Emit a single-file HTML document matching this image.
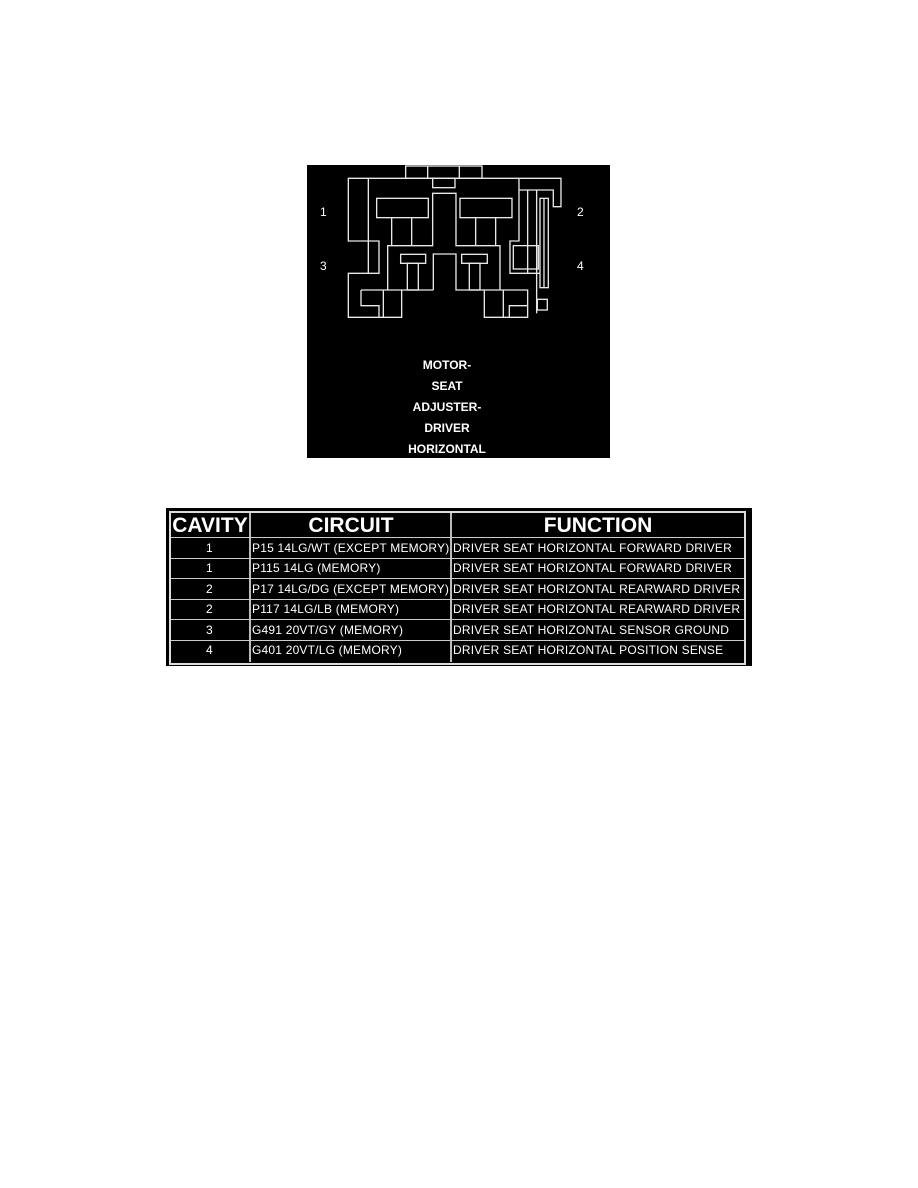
<!DOCTYPE html>
<html><head><meta charset="utf-8"><style>
body{margin:0;background:#fff;width:918px;height:1188px;position:relative;overflow:hidden;font-family:"Liberation Sans",Arial,sans-serif}
.box{position:absolute;left:307px;top:165px;width:303px;height:293px;background:#000}
.lbl{position:absolute;color:#fff;font-size:12px}
.cap{position:absolute;left:347px;width:200px;text-align:center;color:#fff;font-weight:bold;font-size:12px;line-height:14px}
.tbl{position:absolute;left:166px;top:508px;width:586px;height:158px;background:#000}
.inner{position:absolute;left:169px;top:511px;width:573px;height:150px;border:2px solid #ddd}
.c{position:absolute;color:#fff;font-size:12px;letter-spacing:0.2px;line-height:14px;white-space:nowrap}
.h{position:absolute;color:#fff;font-weight:bold;font-size:21px;line-height:24px;text-align:center}
.hl{position:absolute;left:171px;width:573px;height:1px;background:#ccc}
.vl{position:absolute;top:513px;width:2px;height:149px;background:#bbb}
</style></head><body>
<div class="box"></div>
<svg style="position:absolute;left:0;top:0" width="918" height="1188">
<g transform="translate(300,160) scale(0.3333)" fill="none" stroke="#e8e8e8" stroke-width="4">
<rect x="317" y="18" width="229" height="37"/>
<line x1="383" y1="18" x2="383" y2="55"/><line x1="478" y1="18" x2="478" y2="55"/>
<rect x="398" y="55" width="67" height="28"/>
<polyline points="657,55 145,55 145,243 237,243 237,340 145,340 145,472 305,472 305,390"/>
<polyline points="183,390 183,437 237,437 237,472"/>
<line x1="250" y1="390" x2="250" y2="472"/>
<line x1="183" y1="390" x2="400" y2="390"/>
<line x1="205" y1="55" x2="205" y2="340"/>
<rect x="230" y="115" width="155" height="58"/>
<line x1="275" y1="173" x2="275" y2="257"/><line x1="335" y1="173" x2="335" y2="257"/>
<polyline points="263,390 263,257 398,257 398,100 468,100 468,257 600,257 600,390"/>
<polyline points="400,390 400,282 468,282 468,390 683,390 683,472 553,472 553,390"/>
<rect x="480" y="115" width="156" height="58"/>
<line x1="527" y1="173" x2="527" y2="257"/><line x1="587" y1="173" x2="587" y2="257"/>
<rect x="302" y="283" width="75" height="27"/>
<rect x="322" y="310" width="33" height="80"/>
<rect x="485" y="283" width="77" height="27"/>
<rect x="508" y="310" width="32" height="80"/>
<polyline points="628,472 628,437 683,437"/>
<line x1="610" y1="390" x2="610" y2="472"/>
<polyline points="657,55 657,243 630,243 630,340 720,340"/>
<rect x="640" y="257" width="75" height="70"/>
<line x1="683" y1="90" x2="683" y2="340"/>
<polyline points="710,90 710,460"/>
<polyline points="658,90 760,90 760,140 783,140 783,55 657,55"/>
<rect x="720" y="115" width="25" height="268"/>
<line x1="732" y1="115" x2="732" y2="383"/>
<rect x="712" y="418" width="30" height="32"/>
</g></svg>
<div class="lbl" style="left:320px;top:205px">1</div>
<div class="lbl" style="left:577px;top:205px">2</div>
<div class="lbl" style="left:320px;top:259px">3</div>
<div class="lbl" style="left:577px;top:259px">4</div>
<div class="cap" style="top:358px">MOTOR-</div>
<div class="cap" style="top:379px">SEAT</div>
<div class="cap" style="top:400px">ADJUSTER-</div>
<div class="cap" style="top:421px">DRIVER</div>
<div class="cap" style="top:442px">HORIZONTAL</div>

<div class="tbl"></div>
<div class="inner"></div>
<div class="vl" style="left:249px"></div>
<div class="vl" style="left:450px"></div>
<div class="hl" style="top:537px"></div>
<div class="hl" style="top:558px"></div>
<div class="hl" style="top:578px"></div>
<div class="hl" style="top:599px"></div>
<div class="hl" style="top:619px"></div>
<div class="hl" style="top:640px"></div>
<div class="h" style="left:170px;width:80px;top:514px">CAVITY</div>
<div class="h" style="left:251px;width:200px;top:514px">CIRCUIT</div>
<div class="h" style="left:452px;width:292px;top:514px">FUNCTION</div>

<div class="c" style="left:206px;top:541px">1</div>
<div class="c" style="left:206px;top:561px">1</div>
<div class="c" style="left:206px;top:582px">2</div>
<div class="c" style="left:206px;top:602px">2</div>
<div class="c" style="left:206px;top:623px">3</div>
<div class="c" style="left:206px;top:643px">4</div>

<div class="c" style="left:252px;top:541px">P15 14LG/WT (EXCEPT MEMORY)</div>
<div class="c" style="left:252px;top:561px">P115 14LG (MEMORY)</div>
<div class="c" style="left:252px;top:582px">P17 14LG/DG (EXCEPT MEMORY)</div>
<div class="c" style="left:252px;top:602px">P117 14LG/LB (MEMORY)</div>
<div class="c" style="left:252px;top:623px">G491 20VT/GY (MEMORY)</div>
<div class="c" style="left:252px;top:643px">G401 20VT/LG (MEMORY)</div>

<div class="c" style="left:453px;top:541px">DRIVER SEAT HORIZONTAL FORWARD DRIVER</div>
<div class="c" style="left:453px;top:561px">DRIVER SEAT HORIZONTAL FORWARD DRIVER</div>
<div class="c" style="left:453px;top:582px">DRIVER SEAT HORIZONTAL REARWARD DRIVER</div>
<div class="c" style="left:453px;top:602px">DRIVER SEAT HORIZONTAL REARWARD DRIVER</div>
<div class="c" style="left:453px;top:623px">DRIVER SEAT HORIZONTAL SENSOR GROUND</div>
<div class="c" style="left:453px;top:643px">DRIVER SEAT HORIZONTAL POSITION SENSE</div>
</body></html>
